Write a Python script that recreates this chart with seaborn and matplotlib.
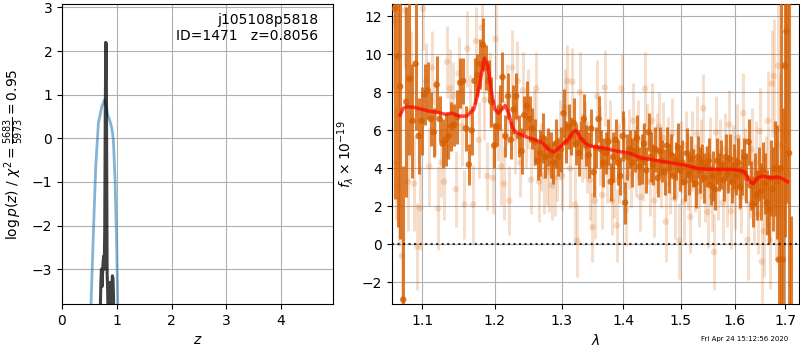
import matplotlib

matplotlib.use("Agg")
import matplotlib.pyplot as plt
import matplotlib.ticker as mticker
import numpy as np
import seaborn as sns

# --- p(z) panel ---------------------------------------------------------
z_coarse = [0.50, 0.53, 0.573, 0.616, 0.664, 0.725, 0.774, 0.80, 0.835,
            0.87, 0.896, 0.92, 0.938, 0.969, 1.00, 1.018, 1.04]
logp_coarse = [-5.0, -3.8, -2.18, -0.65, 0.34, 0.72, 0.88, 0.80, 0.53,
               0.42, 0.30, 0.15, -0.04, -0.95, -2.56, -3.8, -5.0]

z_fine = [0.690, 0.700, 0.710, 0.720, 0.730, 0.740, 0.750, 0.760, 0.770,
          0.780, 0.790, 0.800, 0.808, 0.816, 0.824, 0.832, 0.840, 0.850,
          0.860, 0.870, 0.880, 0.890, 0.900, 0.910, 0.920, 0.930, 0.940,
          0.950, 0.960, 0.970]
logp_fine = [-4.6, -3.9, -3.3, -3.0, -3.4, -3.1, -2.85, -2.7, -3.0,
             -2.2, 0.6, 2.2, 2.15, -0.5, -3.1, -3.4, -3.9, -4.5,
             -4.3, -3.6, -3.3, -3.5, -4.1, -3.4, -3.15, -3.2, -3.6,
             -4.2, -4.4, -5.0]

chi2 = 5683
dof = 5973
root = "j105108p5818"
obj_id = 1471
z_best = 0.8056
stamp = "Fri Apr 24 15:12:56 2020"

# --- spectrum panel: first beam (opaque) ---------------------------------
wave_a = [1.064, 1.068, 1.071, 1.075, 1.079, 1.083, 1.087, 1.091, 1.095, 1.099,
          1.103, 1.107, 1.111, 1.115, 1.119, 1.123, 1.127, 1.131, 1.135, 1.139,
          1.143, 1.147, 1.151, 1.155, 1.159, 1.163, 1.167, 1.171, 1.175, 1.179,
          1.183, 1.187, 1.191, 1.195, 1.199, 1.203, 1.207, 1.211, 1.215, 1.219,
          1.223, 1.227, 1.231, 1.235, 1.239, 1.243, 1.247, 1.251, 1.255, 1.259,
          1.263, 1.267, 1.271, 1.275, 1.279, 1.283, 1.287, 1.291, 1.295, 1.299,
          1.303, 1.307, 1.311, 1.315, 1.319, 1.323, 1.327, 1.331, 1.335, 1.339,
          1.343, 1.347, 1.351, 1.355, 1.359, 1.363, 1.367, 1.371, 1.375, 1.379,
          1.383, 1.387, 1.391, 1.395, 1.399, 1.403, 1.407, 1.411, 1.415, 1.419,
          1.423, 1.427, 1.431, 1.435, 1.439, 1.443, 1.447, 1.451, 1.455, 1.459,
          1.463, 1.467, 1.471, 1.475, 1.479, 1.483, 1.487, 1.491, 1.495, 1.499,
          1.503, 1.507, 1.511, 1.515, 1.519, 1.523, 1.527, 1.531, 1.535, 1.539,
          1.543, 1.547, 1.551, 1.555, 1.559, 1.563, 1.567, 1.571, 1.575, 1.579,
          1.583, 1.587, 1.591, 1.595, 1.599, 1.603, 1.607, 1.611, 1.615, 1.619,
          1.623, 1.627, 1.631, 1.635, 1.639, 1.643, 1.647, 1.651, 1.655, 1.659,
          1.663, 1.667, 1.671, 1.675, 1.679, 1.683, 1.687, 1.691, 1.695, 1.699,
          1.703, 1.708, 1.712]
flux_a = [12.4, 9.9, 8.3, -2.9, 7.5, 8.7, 6.5, 9.5, 5.7, 6.5,
          7.9, 8.1, 6.6, 5.9, 8.4, 6.6, 5.3, 5.5, 5.7, 6.2,
          6.3, 6.7, 8.5, 8.6, 6.1, 4.2, 6.0, 8.6, 8.9, 9.5,
          10.5, 9.3, 8.6, 7.5, 5.2, 6.2, 7.2, 8.8, 5.7, 7.8,
          5.5, 7.1, 7.8, 5.7, 4.9, 6.8, 7.3, 6.6, 6.1, 5.4,
          4.4, 4.8, 5.6, 4.6, 5.1, 4.7, 4.3, 5.3, 4.6, 5.0,
          6.9, 5.4, 6.2, 5.7, 6.4, 5.3, 4.8, 5.5, 6.6, 5.2,
          4.7, 6.1, 3.8, 5.1, 6.6, 5.0, 4.3, 4.8, 5.4, 3.3,
          4.6, 5.5, 4.3, 3.6, 5.7, 2.2, 4.6, 5.0, 4.3, 4.9,
          5.6, 4.1, 4.5, 5.3, 3.9, 5.9, 4.6, 4.2, 5.0, 3.5,
          4.9, 4.4, 3.8, 5.2, 4.0, 4.7, 3.6, 4.4, 5.1, 3.9,
          4.3, 3.3, 4.8, 3.7, 4.5, 4.0, 3.2, 4.6, 3.9, 4.3,
          3.5, 4.1, 4.4, 3.1, 3.6, 2.9, 4.4, 3.8, 4.2, 3.4,
          4.6, 3.7, 4.5, 3.3, 4.1, 3.6, 4.3, 3.0, 3.8, 4.6,
          3.5, 5.4, 3.1, 2.1, 3.4, 2.6, 3.7, 2.8, 3.9, 3.2,
          2.2, 1.85, 3.5, 2.9, 4.0, 3.3, -0.8, 4.0, -0.8, 9.4,
          11.2, 4.8, -3.5]
err_a = [10.0, 9.0, 8.0, 7.0, 5.0, 4.0, 3.0, 3.5, 2.0, 1.8,
         1.6, 1.5, 1.4, 1.3, 1.5, 1.2, 1.3, 1.4, 1.2, 1.3,
         1.1, 1.4, 1.3, 1.2, 1.2, 1.1, 1.3, 1.2, 1.1, 1.3,
         1.4, 1.2, 1.1, 1.3, 1.2, 1.0, 1.2, 1.3, 1.1, 1.2,
         1.0, 1.3, 1.2, 1.1, 1.2, 1.0, 1.3, 1.2, 1.1, 1.2,
         1.0, 1.2, 1.3, 1.1, 1.0, 1.2, 1.1, 1.3, 1.0, 1.2,
         1.3, 1.1, 1.2, 1.0, 1.3, 1.1, 1.2, 1.0, 1.3, 1.1,
         1.2, 1.0, 1.3, 1.1, 1.2, 1.0, 1.3, 1.1, 1.2, 1.0,
         1.3, 1.1, 1.2, 1.0, 1.3, 1.1, 1.2, 1.0, 1.3, 1.1,
         1.2, 1.0, 1.3, 1.1, 1.2, 1.0, 1.3, 1.1, 1.2, 1.0,
         1.3, 1.1, 1.2, 1.0, 1.3, 1.1, 1.2, 1.0, 1.3, 1.1,
         1.2, 1.0, 1.3, 1.1, 1.2, 1.0, 1.3, 1.1, 1.2, 1.0,
         1.3, 1.1, 1.2, 1.0, 1.3, 1.1, 1.2, 1.0, 1.3, 1.1,
         1.2, 1.0, 1.3, 1.1, 1.2, 1.0, 1.3, 1.1, 1.2, 1.0,
         1.3, 1.2, 1.3, 1.2, 1.4, 1.3, 1.4, 1.5, 1.5, 1.6,
         1.7, 1.8, 2.0, 2.2, 2.5, 3.0, 5.0, 9.0, 8.0, 9.0,
         9.0, 8.0, 5.0]

# --- spectrum panel: second beam (faded) ---------------------------------
wave_b = [1.063, 1.066, 1.069, 1.073, 1.077, 1.081, 1.085, 1.089, 1.093, 1.097,
          1.101, 1.105, 1.109, 1.113, 1.117, 1.121, 1.125, 1.129, 1.133, 1.137,
          1.141, 1.145, 1.149, 1.153, 1.157, 1.161, 1.165, 1.169, 1.173, 1.177,
          1.181, 1.185, 1.189, 1.193, 1.197, 1.201, 1.205, 1.209, 1.213, 1.217,
          1.221, 1.225, 1.229, 1.233, 1.237, 1.241, 1.245, 1.249, 1.253, 1.257,
          1.261, 1.265, 1.269, 1.273, 1.277, 1.281, 1.285, 1.289, 1.293, 1.297,
          1.301, 1.305, 1.309, 1.313, 1.317, 1.321, 1.325, 1.329, 1.333, 1.337,
          1.341, 1.345, 1.349, 1.353, 1.357, 1.361, 1.365, 1.369, 1.373, 1.377,
          1.381, 1.385, 1.389, 1.393, 1.397, 1.401, 1.405, 1.409, 1.413, 1.417,
          1.421, 1.425, 1.429, 1.433, 1.437, 1.441, 1.445, 1.449, 1.453, 1.457,
          1.461, 1.465, 1.469, 1.473, 1.477, 1.481, 1.485, 1.489, 1.493, 1.497,
          1.501, 1.505, 1.509, 1.513, 1.517, 1.521, 1.525, 1.529, 1.533, 1.537,
          1.541, 1.545, 1.549, 1.553, 1.557, 1.561, 1.565, 1.569, 1.573, 1.577,
          1.581, 1.585, 1.589, 1.593, 1.597, 1.601, 1.605, 1.609, 1.613, 1.617,
          1.621, 1.625, 1.629, 1.633, 1.637, 1.641, 1.645, 1.649, 1.653, 1.657,
          1.661, 1.665, 1.669, 1.673, 1.677, 1.681, 1.685, 1.689]
flux_b = [11.7, 4.3, 3.1, -0.6, 12.3, 3.3, 8.8, 3.2, -0.1, 1.9,
          12.4, 8.6, 4.1, 9.3, 6.7, 1.9, 4.3, 3.3, 9.6, 8.2,
          7.8, 2.9, 9.0, 6.2, 2.1, 10.3, 7.0, 2.1, 10.7, 5.5,
          11.4, 7.6, 3.6, 8.1, 3.5, 10.8, 6.2, 4.1, 3.2, 7.4,
          2.3, 9.3, 5.6, 8.6, 4.3, 8.1, 5.9, 7.1, 3.4, 6.1,
          8.2, 3.3, 4.6, 3.6, 4.0, 3.8, 3.1, 3.5, 4.2, 5.5,
          3.6, 7.2, 8.6, 4.0, 8.55, 2.1, 0.2, 8.0, 5.1, 5.5,
          4.6, 3.4, 0.9, 2.3, 7.8, 5.2, 2.6, 8.25, 4.1, 5.5,
          2.3, 3.4, 1.0, 4.3, 8.2, 4.7, 1.8, 5.0, 3.7, 6.5,
          4.4, 5.5, 2.5, 4.3, 8.2, 5.3, 3.3, 6.5, 2.3, 4.8,
          6.2, 3.9, 5.6, 1.2, 4.9, 3.6, 5.8, 2.4, 4.3, 0.2,
          4.6, 2.25, 5.2, 3.8, 1.45, 4.9, 3.5, 5.8, 2.8, 4.5,
          7.15, 3.2, 1.7, 4.6, 2.5, -0.4, 5.9, 3.4, 4.8, 2.2,
          5.0, 3.0, 6.3, 1.75, 4.4, 2.9, 5.6, 3.8, 2.5, 6.9,
          4.2, 0.25, 3.4, 5.0, 2.0, 4.3, 1.6, 5.95, -0.9, 0.7,
          3.3, 6.5, 0.25, 8.46, 8.85, 2.4, 9.4, 5.2]
err_b = [3.5, 3.0, 3.2, 2.8, 3.0, 2.6, 2.4, 2.5, 2.3, 2.2,
         2.2, 2.0, 2.1, 1.9, 2.0, 2.2, 1.8, 2.0, 1.9, 2.1,
         1.8, 2.0, 1.9, 2.1, 1.8, 2.0, 1.9, 2.1, 1.8, 2.0,
         1.9, 2.1, 1.8, 2.0, 1.9, 2.1, 1.8, 2.0, 1.9, 2.1,
         1.8, 2.0, 1.9, 2.1, 1.8, 2.0, 1.9, 2.1, 1.8, 2.0,
         1.9, 2.1, 1.8, 2.0, 1.9, 2.1, 1.8, 2.0, 1.9, 2.1,
         1.8, 2.0, 1.9, 2.1, 1.8, 2.0, 1.9, 2.1, 1.8, 2.0,
         1.9, 2.1, 1.8, 2.0, 1.9, 2.1, 1.8, 2.0, 1.9, 2.1,
         1.8, 2.0, 1.9, 2.1, 1.8, 2.0, 1.9, 2.1, 1.8, 2.0,
         1.9, 2.1, 1.8, 2.0, 1.9, 2.1, 1.8, 2.0, 1.9, 2.1,
         1.8, 2.0, 1.9, 2.1, 1.8, 2.0, 1.9, 2.1, 1.8, 2.0,
         1.9, 2.1, 1.8, 2.0, 1.9, 2.1, 1.8, 2.0, 1.9, 2.1,
         1.8, 2.0, 1.9, 2.1, 1.8, 2.0, 1.9, 2.1, 1.8, 2.0,
         1.9, 2.1, 1.8, 2.0, 1.9, 2.1, 1.8, 2.0, 1.9, 2.1,
         1.9, 2.1, 2.0, 2.2, 2.0, 2.2, 2.1, 2.3, 2.2, 2.4,
         2.4, 2.6, 2.6, 2.8, 3.0, 3.2, 3.5, 3.8]

# best-fit template
model_wave = [1.071, 1.075, 1.080, 1.090, 1.100, 1.110, 1.120, 1.130, 1.140,
              1.150, 1.160, 1.170, 1.175, 1.180, 1.185, 1.190, 1.195, 1.200,
              1.205, 1.210, 1.215, 1.220, 1.225, 1.230, 1.240, 1.250, 1.260,
              1.270, 1.280, 1.288, 1.300, 1.310, 1.318, 1.323, 1.330, 1.340,
              1.350, 1.370, 1.390, 1.410, 1.430, 1.450, 1.470, 1.490, 1.510,
              1.530, 1.550, 1.570, 1.590, 1.610, 1.620, 1.630, 1.636, 1.645,
              1.655, 1.670, 1.685, 1.695, 1.705]
model_flux = [6.8, 7.15, 7.25, 7.2, 7.1, 7.0, 6.95, 6.85, 6.9,
              6.75, 6.75, 7.1, 7.8, 8.8, 9.8, 9.4, 8.0, 7.1,
              6.9, 7.1, 7.3, 6.9, 6.2, 5.9, 5.75, 5.6, 5.5,
              5.35, 5.0, 4.85, 5.2, 5.5, 5.9, 6.0, 5.6, 5.25,
              5.15, 5.05, 4.9, 4.8, 4.55, 4.45, 4.35, 4.25, 4.15,
              4.0, 3.95, 3.95, 3.95, 3.9, 3.8, 3.3, 3.2, 3.5,
              3.6, 3.5, 3.55, 3.45, 3.3]

wave_ticks = [1.1, 1.2, 1.3, 1.4, 1.5, 1.6, 1.7]

GRISM_COLOR = "#D55E00"


def draw_beam(ax, wave, flux, err, alpha, zorder):
    wave = np.asarray(wave)
    flux = np.asarray(flux)
    err = np.asarray(err)
    ax.vlines(wave, flux - err, flux + err, color=GRISM_COLOR, alpha=alpha,
              lw=2.2, zorder=zorder)
    sns.scatterplot(x=wave, y=flux, ax=ax, color=GRISM_COLOR, alpha=alpha,
                    s=22, edgecolor="none", zorder=zorder + 0.1, legend=False)


def main():
    fig, (ax_z, ax_s) = plt.subplots(
        1, 2, figsize=(8, 3.5), dpi=100,
        gridspec_kw={"width_ratios": [271, 407]},
    )
    fig.subplots_adjust(left=0.0775, right=0.999, bottom=0.131, top=0.99,
                        wspace=0.174)

    # p(z)
    sns.lineplot(x=z_coarse, y=logp_coarse, ax=ax_z, color="#1f77b4",
                 alpha=0.55, lw=2, sort=False, estimator=None)
    sns.lineplot(x=z_fine, y=logp_fine, ax=ax_z, color="k", alpha=0.75,
                 lw=2.2, sort=False, estimator=None)
    ax_z.set_xlim(0, 4.95)
    ax_z.set_ylim(-3.8, 3.09)
    ax_z.set_xlabel(r"$z$")
    ax_z.set_ylabel(r"$\log p(z)$" + " / "
                    + r"$\chi^2=\frac{%d}{%d}=%.2f$" % (chi2, dof, chi2 / dof))
    ax_z.grid(True)
    ax_z.text(0.945, 0.97, "%s\nID=%d   z=%.4f" % (root, obj_id, z_best),
              transform=ax_z.transAxes, ha="right", va="top", fontsize=10)

    # spectrum
    draw_beam(ax_s, wave_b, flux_b, err_b, alpha=0.2, zorder=2)
    draw_beam(ax_s, wave_a, flux_a, err_a, alpha=0.8, zorder=3)
    sns.lineplot(x=model_wave, y=model_flux, ax=ax_s, color="r", alpha=0.7,
                 lw=2.5, sort=False, estimator=None, zorder=5)
    ax_s.axhline(0, color="k", ls=":", lw=1.5, alpha=0.8, zorder=6)

    ax_s.set_xscale("log")
    ax_s.xaxis.set_major_locator(mticker.FixedLocator(wave_ticks))
    ax_s.xaxis.set_major_formatter(mticker.FormatStrFormatter("%.1f"))
    ax_s.xaxis.set_minor_locator(mticker.NullLocator())
    ax_s.set_xlim(1.0607, 1.729)
    ax_s.set_ylim(-3.14, 12.67)
    ax_s.set_xlabel(r"$\lambda$")
    ax_s.set_ylabel(r"$f_\lambda\times10^{-19}$")
    ax_s.grid(True)

    fig.text(0.985, 0.031, stamp, ha="right", va="center", fontsize=5)

    fig.savefig("out.png", dpi=100)
    plt.close(fig)


if __name__ == "__main__":
    main()
